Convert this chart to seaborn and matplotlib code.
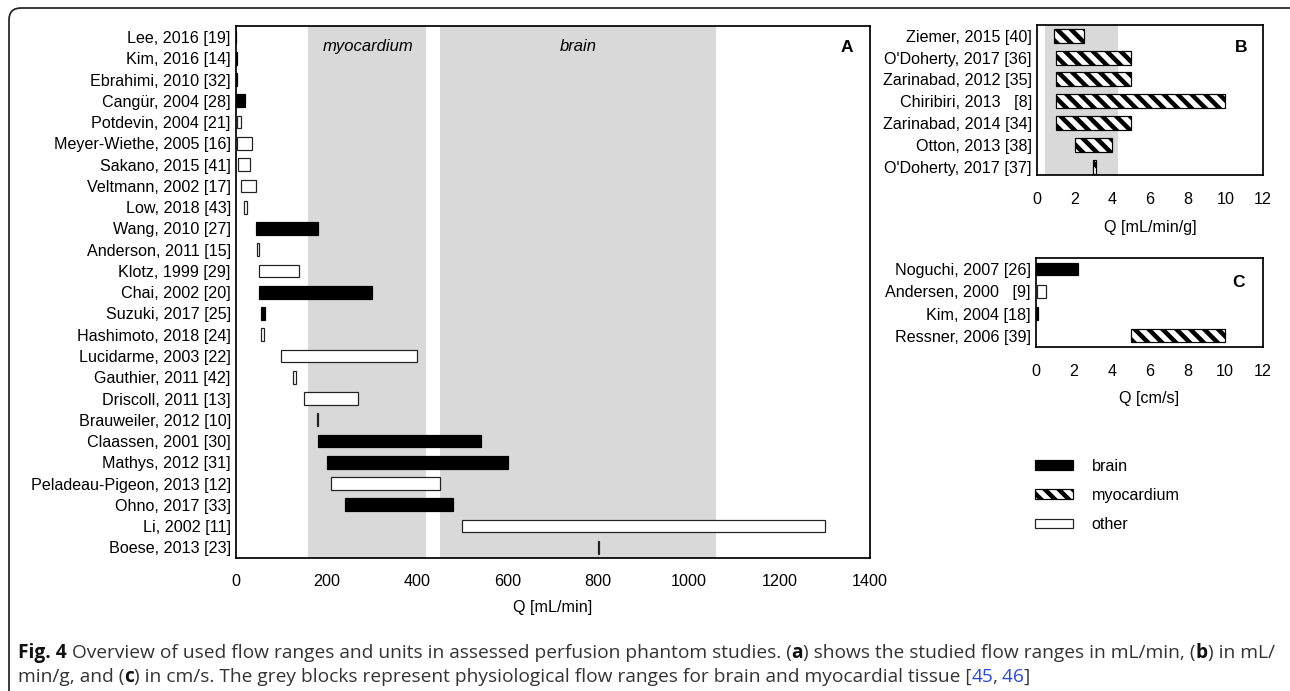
import numpy as np
import matplotlib
matplotlib.use("Agg")
import matplotlib.pyplot as plt
import seaborn as sns
from matplotlib.patches import Patch, FancyBboxPatch
from matplotlib.transforms import IdentityTransform

# ---------------- data ----------------
A_labels = ["Lee, 2016 [19]", "Kim, 2016 [14]", "Ebrahimi, 2010 [32]", "Cangür, 2004 [28]",
            "Potdevin, 2004 [21]", "Meyer-Wiethe, 2005 [16]", "Sakano, 2015 [41]",
            "Veltmann, 2002 [17]", "Low, 2018 [43]", "Wang, 2010 [27]", "Anderson, 2011 [15]",
            "Klotz, 1999 [29]", "Chai, 2002 [20]", "Suzuki, 2017 [25]", "Hashimoto, 2018 [24]",
            "Lucidarme, 2003 [22]", "Gauthier, 2011 [42]", "Driscoll, 2011 [13]",
            "Brauweiler, 2012 [10]", "Claassen, 2001 [30]", "Mathys, 2012 [31]",
            "Peladeau-Pigeon, 2013 [12]", "Ohno, 2017 [33]", "Li, 2002 [11]", "Boese, 2013 [23]"]
A_start = [0, 0, 0, 0, 3, 3, 4, 10, 18, 45, 46, 50, 50, 55, 55, 100, 126, 150, 179, 180, 200, 210, 240, 500, 799]
A_end = [1, 1.5, 1.5, 20, 10, 35, 30, 45, 24, 180, 50, 140, 300, 63, 62, 400, 133, 270, 181, 540, 600, 450, 480, 1300, 801]
A_type = ["brain", "brain", "brain", "brain", "other", "other", "other", "other", "other", "brain",
          "other", "other", "brain", "brain", "other", "other", "other", "other", "other", "brain",
          "brain", "other", "brain", "other", "other"]

B_labels = ["Ziemer, 2015 [40]", "O'Doherty, 2017 [36]", "Zarinabad, 2012 [35]", "Chiribiri, 2013   [8]",
            "Zarinabad, 2014 [34]", "Otton, 2013 [38]", "O'Doherty, 2017 [37]"]
B_start = [0.9, 1, 1, 1, 1, 2, 2.95]
B_end = [2.5, 5, 5, 10, 5, 4, 3.15]
B_type = ["myocardium"] * 7

C_labels = ["Noguchi, 2007 [26]", "Andersen, 2000   [9]", "Kim, 2004 [18]", "Ressner, 2006 [39]"]
C_start = [0, 0.05, 0, 5]
C_end = [2.2, 0.55, 0.1, 10]
C_type = ["brain", "other", "brain", "myocardium"]

A_bands = [(160, 420, "myocardium", 291), (450, 1060, "brain", 755)]
B_band = (0.4, 4.3)

A_ticks = [0, 200, 400, 600, 800, 1000, 1200, 1400]
BC_ticks = [0, 2, 4, 6, 8, 10, 12]

legend_labels = ["brain", "myocardium", "other"]

# ---------------- style ----------------
DPI = 125
W, H = 1290, 691
sns.set_theme(style="white")
plt.rcParams["font.family"] = ["Liberation Sans", "DejaVu Sans"]
plt.rcParams["hatch.linewidth"] = 2.6
plt.rcParams["hatch.color"] = "black"
plt.rcParams["text.color"] = "black"
plt.rcParams["axes.labelcolor"] = "black"
plt.rcParams["xtick.color"] = "black"
plt.rcParams["ytick.color"] = "black"
FS = 9.3
GREY = "#d9d9d9"

STYLE = {
    "brain": dict(facecolor="black", edgecolor="black"),
    "myocardium": dict(facecolor="white", edgecolor="black", hatch="\\\\\\"),
    "other": dict(facecolor="white", edgecolor="#222222"),
}

fig = plt.figure(figsize=(W / DPI, H / DPI), dpi=DPI)


def axrect(l, t, r, b):
    return [l / W, 1 - b / H, (r - l) / W, (b - t) / H]


axA = fig.add_axes(axrect(236, 26, 870, 558))
axB = fig.add_axes(axrect(1037, 25, 1263, 175))
axC = fig.add_axes(axrect(1036, 258, 1263, 347))


def draw(ax, labels, start, end, types, height, ylim, ticks, xlabel, xpad, lpad):
    y = np.arange(len(labels))
    for yi, s, e, t in zip(y, start, end, types):
        ax.barh(yi, e - s, left=s, height=height, linewidth=0.7, zorder=3, **STYLE[t])
    ax.set_yticks(y)
    ax.set_yticklabels(labels, fontsize=FS)
    ax.set_ylim(*ylim)
    ax.set_xlim(ticks[0], ticks[-1])
    ax.set_xticks(ticks)
    ax.set_xticklabels([str(t) for t in ticks], fontsize=FS)
    ax.tick_params(axis="y", length=0, pad=3)
    ax.tick_params(axis="x", length=0, pad=xpad)
    ax.set_xlabel(xlabel, fontsize=FS, labelpad=lpad)
    for sp in ax.spines.values():
        sp.set_visible(True)
        sp.set_color("black")
        sp.set_linewidth(1.0)
    ax.set_facecolor("white")


draw(axA, A_labels, A_start, A_end, A_type, 0.6, (24.5, -0.52), A_ticks, "Q [mL/min]", 9, 6.5)
draw(axB, B_labels, B_start, B_end, B_type, 0.64, (6.38, -0.49), BC_ticks, "Q [mL/min/g]", 10, 7.5)
draw(axC, C_labels, C_start, C_end, C_type, 0.57, (3.5, -0.49), BC_ticks, "Q [cm/s]", 10, 6.5)

for lo, hi, name, xc in A_bands:
    axA.axvspan(lo, hi, color=GREY, zorder=0, lw=0)
    axA.text(xc, 0.962, name, transform=axA.get_xaxis_transform(), ha="center", va="center",
             fontsize=FS + 0.3, style="italic")
axB.axvspan(B_band[0], B_band[1], color=GREY, zorder=0, lw=0)

axA.text(0.963, 0.96, "A", transform=axA.transAxes, ha="center", va="center", fontsize=10, fontweight="bold")
axB.text(0.903, 0.847, "B", transform=axB.transAxes, ha="center", va="center", fontsize=10, fontweight="bold")
axC.text(0.894, 0.72, "C", transform=axC.transAxes, ha="center", va="center", fontsize=10, fontweight="bold")

handles = [Patch(**STYLE[t], linewidth=0.7) for t in legend_labels]
fig.legend(handles, legend_labels, loc="upper left", bbox_to_anchor=(1035 / W, 1 - 459 / H),
           frameon=False, fontsize=FS, handlelength=2.35, handleheight=0.55, handletextpad=1.15,
           labelspacing=0.87, borderpad=0, borderaxespad=0)

# ---------------- frame ----------------
frame = FancyBboxPatch((9, -40), 1400, 691 - 8 + 40, boxstyle="round,pad=0,rounding_size=12",
                       transform=IdentityTransform(), fill=False, edgecolor="#222222", linewidth=1.0,
                       figure=fig)
fig.patches.append(frame)

# ---------------- caption ----------------
CAPFAM = ["Open Sans", "DejaVu Sans"]
NORMAL = dict(color="#333333", family=CAPFAM)
BOLD = dict(color="#111111", fontweight="bold", family=CAPFAM)
BLUE = dict(color="#2a4bd7", family=CAPFAM)
line1 = [("Fig. 4", BOLD, 0),
         (" Overview of used flow ranges and units in assessed perfusion phantom studies. (", NORMAL, 0),
         ("a", BOLD, 0), (") shows the studied flow ranges in mL/min, (", NORMAL, 0), ("b", BOLD, 0),
         (") in mL/", NORMAL, 0)]
line2 = [("min/g, and (", NORMAL, 0), ("c", BOLD, 0),
         (") in cm/s. The grey blocks represent physiological flow ranges for brain and myocardial tissue [",
          NORMAL, 0), ("45", BLUE, 0), (",", NORMAL, -2), (" 46", BLUE, 0), ("]", NORMAL, 0)]

renderer = fig.canvas.get_renderer()


def draw_line(segs, x0, ytop, size):
    x = x0
    arts = []
    for s, kw, dx in segs:
        x += dx
        t = fig.text(x / W, 1 - ytop / H, s, fontsize=size, ha="left", va="center", **kw)
        bb = t.get_window_extent(renderer)
        x = bb.x1
        arts.append(t)
    return arts, x


arts, xe = draw_line(line1, 18, 652, 10)
for a in arts:
    a.remove()
size = 10 * (1277 - 18) / (xe - 18)
draw_line(line1, 18, 653, size)
draw_line(line2, 18, 677, size)

fig.savefig("out.png", dpi=DPI)
